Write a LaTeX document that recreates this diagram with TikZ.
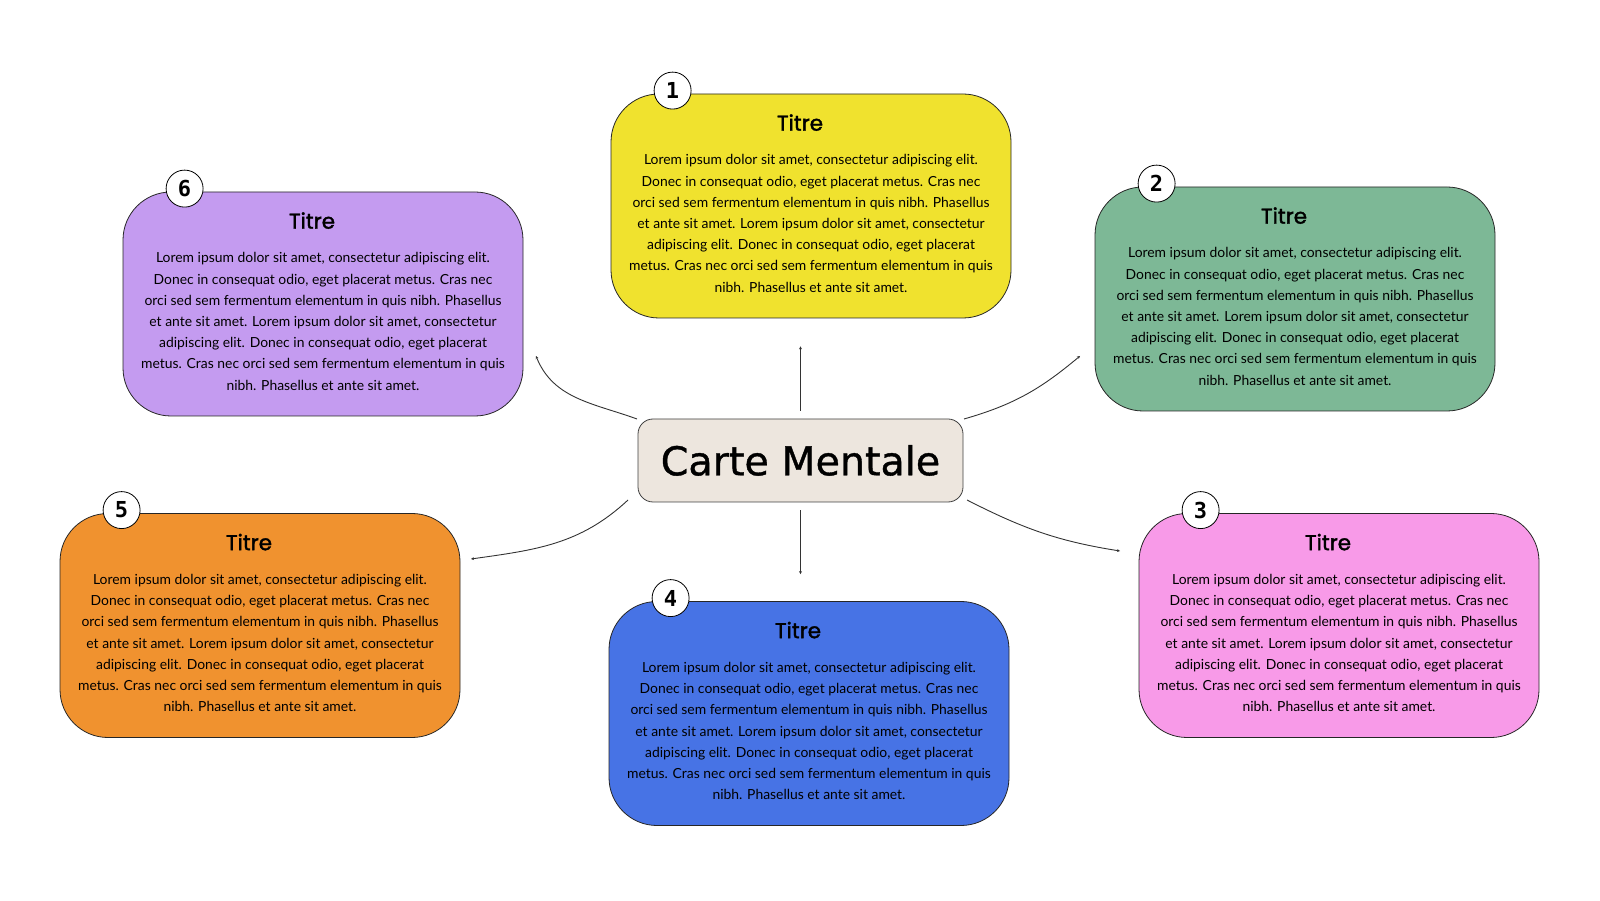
\documentclass[tikz,border=0pt]{standalone}
\usepackage{fontspec}
\setmainfont{Lato}
\newfontfamily\titlefont[FakeBold=1.6]{Poppins}
\newfontfamily\bigfont[FakeBold=1.0]{DejaVu Sans}
\newfontfamily\numfont{DejaVu Sans Mono}
\usetikzlibrary{arrows.meta,calc}
\definecolor{cyellow}{HTML}{F0E22E}
\definecolor{cgreen}{HTML}{7DB896}
\definecolor{cpurple}{HTML}{C49BF0}
\definecolor{corange}{HTML}{F0922F}
\definecolor{cblue}{HTML}{4773E5}
\definecolor{cpink}{HTML}{F89AE8}
\definecolor{cbeige}{HTML}{EDE6DE}
\newcommand\mmlorem{Lorem ipsum dolor sit amet, consectetur adipiscing elit.\\
Donec in consequat odio, eget placerat metus. Cras nec\\
orci sed sem fermentum elementum in quis nibh. Phasellus\\
et ante sit amet. Lorem ipsum dolor sit amet, consectetur\\
adipiscing elit. Donec in consequat odio, eget placerat\\
metus. Cras nec orci sed sem fermentum elementum in quis\\
nibh. Phasellus et ante sit amet.}
\newcommand\mmcard[5]{%
  \node[card, fill=#4] (#1) at (#2,#3) {};
  \node[num] (#1n) at ($(#1.north west)+(62,3)$) {#5};
  \node[ttl] (#1t) at ($(#1.north)+(-11,-29)$) {Titre};
  \node[body] (#1b) at ($(#1.center)+(0,-17.5)$) {\mmlorem};
}
\begin{document}
\begin{tikzpicture}[x=1pt,y=1pt,
  card/.style={draw=black!85, line width=0.8pt, rounded corners=48pt,
    minimum width=400pt, minimum height=224pt, inner sep=0pt},
  num/.style={circle, draw=black, fill=white, line width=0.8pt,
    minimum size=37pt, inner sep=0pt, font=\numfont\bfseries\fontsize{22}{22}\selectfont},
  ttl/.style={font=\titlefont\fontsize{21.5}{24}\selectfont, inner sep=0pt},
  body/.style={align=center, font=\fontsize{13.9}{21.2}\selectfont, inner sep=0pt},
  hub/.style={draw=black!75, line width=0.8pt, fill=cbeige, rounded corners=15pt,
    minimum width=325pt, minimum height=83pt, inner sep=0pt,
    font=\bigfont\fontsize{39.6}{44}\selectfont},
  link/.style={draw=black!80, line width=0.9pt, -{Stealth[length=3pt,width=3pt]}}]
\useasboundingbox (0,0) rectangle (1600,900);

\node[hub] (c) at (800.5,439.5) {Carte Mentale};

\mmcard{b1}{811}{694}{cyellow}{1}
\mmcard{b2}{1295}{601}{cgreen}{2}
\mmcard{b3}{1339}{274.5}{cpink}{3}
\mmcard{b4}{809}{186.5}{cblue}{4}
\mmcard{b5}{260}{274.5}{corange}{5}
\mmcard{b6}{323}{596}{cpurple}{6}

\coordinate (s6) at (637,481);
\coordinate (e6) at (536,544);
\coordinate (s2) at (964,481);
\coordinate (e2) at (1080,544);
\coordinate (s5) at (628,400);
\coordinate (e5) at (471,341);
\coordinate (s3) at (967,400);
\coordinate (e3) at (1120,349);

\draw[link, shorten <=8pt, shorten >=28pt] (c.north) -- (c.north |- b1.south);
\draw[link, shorten <=8pt, shorten >=27pt] (c.south) -- (c.south |- b4.north);
\draw[link] (s6) to[out=160, in=-68] (e6);
\draw[link] (s2) to[out=16, in=-140] (e2);
\draw[link] (s5) to[out=223, in=8] (e5);
\draw[link] (s3) to[out=-27, in=171] (e3);
\end{tikzpicture}
\end{document}
